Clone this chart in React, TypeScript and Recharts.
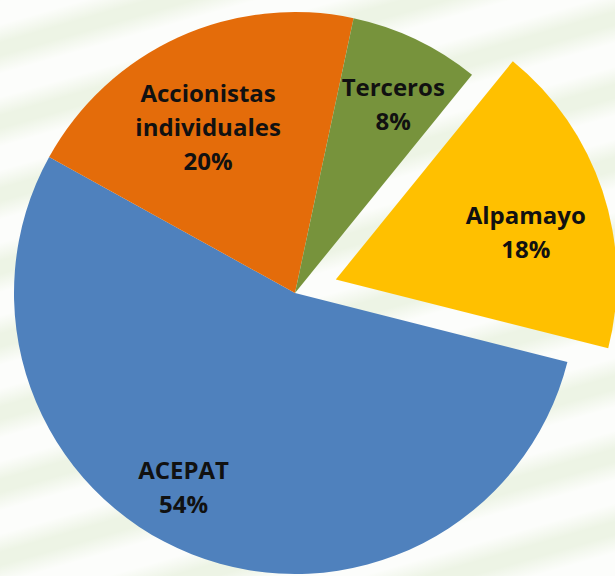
import React from 'react';
import { PieChart, Pie, Cell } from 'recharts';

const names = ['ACEPAT', 'Accionistas individuales', 'Terceros', 'Alpamayo'];
const shares = [54.1, 20.3, 7.5, 18.1];
const labelLines = [['ACEPAT'], ['Accionistas', 'individuales'], ['Terceros'], ['Alpamayo']];
const colors = ['#4f81bd', '#e46c0a', '#77933c', '#ffc000'];
const exploded = 'Alpamayo';

const data = names.map((name, i) => ({ name, value: shares[i] }));

const W = 615;
const H = 576;
const CX = 295;
const CY = 293;
const R = 281;
const START = -14.2;
const EXPLODE = 43;
const RAD = Math.PI / 180;

// small hand nudges so labels sit where the original put them
const labelNudge: Record<string, [number, number]> = {
  ACEPAT: [-37, 6],
  'Accionistas individuales': [-3, 18],
  Terceros: [11, -6],
  Alpamayo: [-2, 17],
};

const total = shares.reduce((a, b) => a + b, 0);
const explodedIdx = names.indexOf(exploded);
const before = shares.slice(0, explodedIdx).reduce((a, b) => a + b, 0);
const explodedMid = START - ((before + shares[explodedIdx] / 2) / total) * 360;
const offX = EXPLODE * Math.cos(-explodedMid * RAD);
const offY = EXPLODE * Math.sin(-explodedMid * RAD);

const FONT = 24;
const LINE = 34;

const makeLabel = (showExploded: boolean) => (props: any) => {
  const { cx, cy, midAngle, index } = props;
  const name = names[index];
  if ((name === exploded) !== showExploded) return null;
  const r = R * 0.72;
  const [nx, ny] = labelNudge[name] || [0, 0];
  const x = cx + r * Math.cos(-midAngle * RAD) + nx;
  const y = cy + r * Math.sin(-midAngle * RAD) + ny;
  const lines = [...labelLines[index], `${Math.round(shares[index])}%`];
  const top = y - ((lines.length - 1) * LINE) / 2 + FONT * 0.36;
  return (
    <text
      key={`lbl-${index}`}
      x={x}
      y={top}
      textAnchor="middle"
      fill="#111"
      fontFamily="'Open Sans', Lato, sans-serif"
      fontWeight={700}
      fontSize={FONT}
    >
      {lines.map((t, k) => (
        <tspan key={k} x={x} y={top + k * LINE}>
          {t}
        </tspan>
      ))}
    </text>
  );
};

const App: React.FC = () => {
  return (
    <div
      style={{
        position: 'fixed',
        left: 0,
        top: 0,
        width: W,
        height: H,
        overflow: 'hidden',
        background:
          'repeating-linear-gradient(-16deg, rgba(255,255,255,0.85) 0px, rgba(255,255,255,0.85) 22px, rgba(255,255,255,0) 40px, rgba(255,255,255,0) 52px, rgba(255,255,255,0.85) 70px), #edf4e5',
      }}
    >
      <PieChart width={W} height={H} margin={{ top: 0, right: 0, bottom: 0, left: 0 }}>
        <Pie
          data={data}
          dataKey="value"
          nameKey="name"
          cx={CX}
          cy={CY}
          outerRadius={R}
          startAngle={START}
          endAngle={START - 360}
          stroke="none"
          labelLine={false}
          label={makeLabel(false)}
          isAnimationActive={false}
        >
          {data.map((d, i) => (
            <Cell key={`c-${i}`} fill={d.name === exploded ? 'none' : colors[i]} />
          ))}
        </Pie>
        <Pie
          data={data}
          dataKey="value"
          nameKey="name"
          cx={CX + offX}
          cy={CY + offY}
          outerRadius={R}
          startAngle={START}
          endAngle={START - 360}
          stroke="none"
          labelLine={false}
          label={makeLabel(true)}
          isAnimationActive={false}
        >
          {data.map((d, i) => (
            <Cell key={`e-${i}`} fill={d.name === exploded ? colors[i] : 'none'} />
          ))}
        </Pie>
      </PieChart>
    </div>
  );
};

export default App;
